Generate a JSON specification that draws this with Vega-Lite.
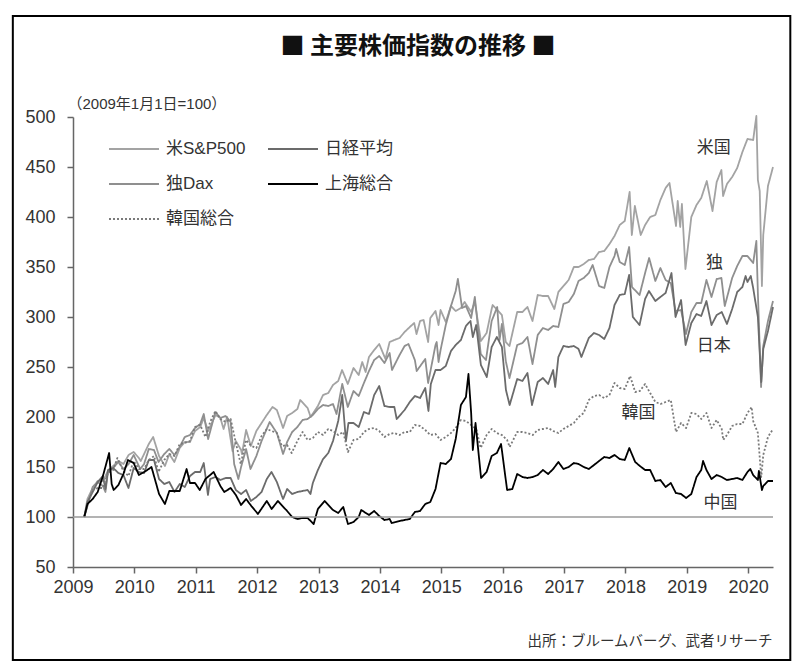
{
  "$schema": "https://vega.github.io/schema/vega-lite/v6.json",
  "width": 700,
  "height": 450,
  "autosize": "none",
  "padding": {"left": 73, "top": 117, "right": 30, "bottom": 103},
  "background": "white",
  "title": {
    "text": "■  主要株価指数の推移  ■",
    "font": "Noto Sans CJK JP",
    "fontSize": 24,
    "fontWeight": "bold",
    "color": "#111",
    "anchor": "middle",
    "frame": "group",
    "dx": -5,
    "offset": -44
  },
  "config": {
    "view": {"stroke": null},
    "font": "Liberation Sans"
  },
  "layer": [
    {
      "data": {
        "values": [
          {"d":"2009-03-09","s":"US","v":100},{"d":"2009-03-28","s":"US","v":118},{"d":"2009-04-28","s":"US","v":129},{"d":"2009-05-28","s":"US","v":136},{"d":"2009-06-28","s":"US","v":136},{"d":"2009-07-28","s":"US","v":146},{"d":"2009-08-28","s":"US","v":151},{"d":"2009-09-28","s":"US","v":156},{"d":"2009-10-28","s":"US","v":153},{"d":"2009-11-28","s":"US","v":162},{"d":"2009-12-28","s":"US","v":165},
          {"d":"2010-01-28","s":"US","v":159},{"d":"2010-02-08","s":"US","v":156},{"d":"2010-02-28","s":"US","v":163},{"d":"2010-03-28","s":"US","v":173},{"d":"2010-04-23","s":"US","v":180},{"d":"2010-05-28","s":"US","v":161},{"d":"2010-07-02","s":"US","v":151},{"d":"2010-07-28","s":"US","v":163},{"d":"2010-08-27","s":"US","v":155},{"d":"2010-09-28","s":"US","v":169},{"d":"2010-10-28","s":"US","v":175},{"d":"2010-11-28","s":"US","v":175},{"d":"2010-12-28","s":"US","v":186},
          {"d":"2011-01-28","s":"US","v":190},{"d":"2011-02-18","s":"US","v":199},{"d":"2011-03-16","s":"US","v":186},{"d":"2011-04-29","s":"US","v":202},{"d":"2011-05-28","s":"US","v":199},{"d":"2011-06-16","s":"US","v":188},{"d":"2011-07-07","s":"US","v":200},{"d":"2011-08-08","s":"US","v":166},{"d":"2011-08-28","s":"US","v":176},{"d":"2011-09-28","s":"US","v":167},{"d":"2011-10-03","s":"US","v":163},{"d":"2011-10-28","s":"US","v":187},{"d":"2011-11-25","s":"US","v":171},{"d":"2011-12-28","s":"US","v":186},
          {"d":"2012-01-28","s":"US","v":194},{"d":"2012-02-28","s":"US","v":202},{"d":"2012-04-02","s":"US","v":210},{"d":"2012-04-28","s":"US","v":207},{"d":"2012-06-04","s":"US","v":189},{"d":"2012-06-28","s":"US","v":201},{"d":"2012-07-28","s":"US","v":204},{"d":"2012-08-28","s":"US","v":208},{"d":"2012-09-14","s":"US","v":217},{"d":"2012-10-28","s":"US","v":209},{"d":"2012-11-15","s":"US","v":200},{"d":"2012-12-28","s":"US","v":211},
          {"d":"2013-01-28","s":"US","v":222},{"d":"2013-02-28","s":"US","v":224},{"d":"2013-03-28","s":"US","v":232},{"d":"2013-04-28","s":"US","v":236},{"d":"2013-05-21","s":"US","v":247},{"d":"2013-06-24","s":"US","v":233},{"d":"2013-07-28","s":"US","v":249},{"d":"2013-08-28","s":"US","v":242},{"d":"2013-09-18","s":"US","v":255},{"d":"2013-10-08","s":"US","v":245},{"d":"2013-10-28","s":"US","v":260},{"d":"2013-11-28","s":"US","v":267},{"d":"2013-12-28","s":"US","v":273},
          {"d":"2014-02-03","s":"US","v":258},{"d":"2014-02-28","s":"US","v":275},{"d":"2014-03-28","s":"US","v":277},{"d":"2014-04-28","s":"US","v":279},{"d":"2014-05-28","s":"US","v":285},{"d":"2014-06-28","s":"US","v":290},{"d":"2014-07-24","s":"US","v":294},{"d":"2014-08-07","s":"US","v":283},{"d":"2014-08-28","s":"US","v":296},{"d":"2014-09-18","s":"US","v":297},{"d":"2014-10-15","s":"US","v":275},{"d":"2014-10-28","s":"US","v":299},{"d":"2014-11-28","s":"US","v":306},{"d":"2014-12-16","s":"US","v":292},{"d":"2014-12-28","s":"US","v":307},
          {"d":"2015-01-28","s":"US","v":295},{"d":"2015-02-28","s":"US","v":311},{"d":"2015-03-28","s":"US","v":306},{"d":"2015-04-28","s":"US","v":309},{"d":"2015-05-20","s":"US","v":315},{"d":"2015-06-28","s":"US","v":305},{"d":"2015-07-20","s":"US","v":315},{"d":"2015-08-25","s":"US","v":276},{"d":"2015-09-28","s":"US","v":284},{"d":"2015-10-28","s":"US","v":308},{"d":"2015-11-03","s":"US","v":312},{"d":"2015-12-28","s":"US","v":302},
          {"d":"2016-01-20","s":"US","v":275},{"d":"2016-02-11","s":"US","v":271},{"d":"2016-03-28","s":"US","v":305},{"d":"2016-04-28","s":"US","v":305},{"d":"2016-05-28","s":"US","v":310},{"d":"2016-06-27","s":"US","v":296},{"d":"2016-07-28","s":"US","v":322},{"d":"2016-08-28","s":"US","v":321},{"d":"2016-09-28","s":"US","v":321},{"d":"2016-11-04","s":"US","v":308},{"d":"2016-11-28","s":"US","v":325},{"d":"2016-12-28","s":"US","v":331},
          {"d":"2017-01-28","s":"US","v":337},{"d":"2017-02-28","s":"US","v":350},{"d":"2017-03-28","s":"US","v":350},{"d":"2017-04-28","s":"US","v":353},{"d":"2017-05-28","s":"US","v":357},{"d":"2017-06-28","s":"US","v":358},{"d":"2017-07-28","s":"US","v":365},{"d":"2017-08-28","s":"US","v":366},{"d":"2017-09-28","s":"US","v":373},{"d":"2017-10-28","s":"US","v":381},{"d":"2017-11-28","s":"US","v":392},{"d":"2017-12-28","s":"US","v":396},
          {"d":"2018-01-26","s":"US","v":425},{"d":"2018-02-08","s":"US","v":382},{"d":"2018-02-26","s":"US","v":411},{"d":"2018-04-02","s":"US","v":382},{"d":"2018-04-28","s":"US","v":392},{"d":"2018-05-28","s":"US","v":400},{"d":"2018-06-28","s":"US","v":402},{"d":"2018-07-28","s":"US","v":417},{"d":"2018-08-28","s":"US","v":429},{"d":"2018-09-20","s":"US","v":434},{"d":"2018-10-29","s":"US","v":391},{"d":"2018-11-08","s":"US","v":416},{"d":"2018-11-23","s":"US","v":390},{"d":"2018-12-03","s":"US","v":413},{"d":"2018-12-24","s":"US","v":348},
          {"d":"2019-01-28","s":"US","v":400},{"d":"2019-02-28","s":"US","v":412},{"d":"2019-03-28","s":"US","v":419},{"d":"2019-04-30","s":"US","v":436},{"d":"2019-06-03","s":"US","v":406},{"d":"2019-06-28","s":"US","v":435},{"d":"2019-07-26","s":"US","v":447},{"d":"2019-08-05","s":"US","v":421},{"d":"2019-08-28","s":"US","v":433},{"d":"2019-09-28","s":"US","v":440},{"d":"2019-10-28","s":"US","v":449},{"d":"2019-11-28","s":"US","v":465},{"d":"2019-12-28","s":"US","v":478},
          {"d":"2020-01-31","s":"US","v":477},{"d":"2020-02-19","s":"US","v":501},{"d":"2020-02-28","s":"US","v":437},{"d":"2020-03-10","s":"US","v":426},{"d":"2020-03-23","s":"US","v":331},{"d":"2020-03-31","s":"US","v":382},{"d":"2020-04-28","s":"US","v":431},{"d":"2020-05-28","s":"US","v":450},

          {"d":"2009-03-09","s":"DE","v":100},{"d":"2009-03-28","s":"DE","v":111},{"d":"2009-04-28","s":"DE","v":130},{"d":"2009-05-28","s":"DE","v":135},{"d":"2009-06-28","s":"DE","v":131},{"d":"2009-07-13","s":"DE","v":125},{"d":"2009-07-28","s":"DE","v":145},{"d":"2009-08-28","s":"DE","v":149},{"d":"2009-09-28","s":"DE","v":155},{"d":"2009-10-28","s":"DE","v":148},{"d":"2009-11-28","s":"DE","v":153},{"d":"2009-12-28","s":"DE","v":162},
          {"d":"2010-02-05","s":"DE","v":148},{"d":"2010-02-28","s":"DE","v":153},{"d":"2010-03-28","s":"DE","v":168},{"d":"2010-04-28","s":"DE","v":167},{"d":"2010-05-25","s":"DE","v":155},{"d":"2010-06-28","s":"DE","v":163},{"d":"2010-07-28","s":"DE","v":168},{"d":"2010-08-28","s":"DE","v":162},{"d":"2010-09-28","s":"DE","v":170},{"d":"2010-10-28","s":"DE","v":180},{"d":"2010-11-28","s":"DE","v":182},{"d":"2010-12-28","s":"DE","v":189},
          {"d":"2011-01-28","s":"DE","v":193},{"d":"2011-02-18","s":"DE","v":203},{"d":"2011-03-16","s":"DE","v":178},{"d":"2011-04-28","s":"DE","v":205},{"d":"2011-05-28","s":"DE","v":199},{"d":"2011-06-28","s":"DE","v":201},{"d":"2011-07-28","s":"DE","v":195},{"d":"2011-08-18","s":"DE","v":153},{"d":"2011-09-12","s":"DE","v":138},{"d":"2011-09-28","s":"DE","v":150},{"d":"2011-10-28","s":"DE","v":168},{"d":"2011-11-23","s":"DE","v":148},{"d":"2011-12-28","s":"DE","v":161},
          {"d":"2012-01-28","s":"DE","v":176},{"d":"2012-03-16","s":"DE","v":195},{"d":"2012-04-28","s":"DE","v":184},{"d":"2012-06-04","s":"DE","v":163},{"d":"2012-06-28","s":"DE","v":175},{"d":"2012-07-28","s":"DE","v":185},{"d":"2012-08-28","s":"DE","v":190},{"d":"2012-09-28","s":"DE","v":197},{"d":"2012-10-28","s":"DE","v":198},{"d":"2012-11-28","s":"DE","v":202},{"d":"2012-12-28","s":"DE","v":208},
          {"d":"2013-01-28","s":"DE","v":212},{"d":"2013-02-28","s":"DE","v":211},{"d":"2013-03-28","s":"DE","v":213},{"d":"2013-04-18","s":"DE","v":203},{"d":"2013-05-22","s":"DE","v":233},{"d":"2013-06-24","s":"DE","v":210},{"d":"2013-07-28","s":"DE","v":226},{"d":"2013-08-28","s":"DE","v":221},{"d":"2013-09-28","s":"DE","v":234},{"d":"2013-10-28","s":"DE","v":246},{"d":"2013-11-28","s":"DE","v":257},{"d":"2013-12-28","s":"DE","v":261},
          {"d":"2014-01-28","s":"DE","v":254},{"d":"2014-02-28","s":"DE","v":264},{"d":"2014-03-14","s":"DE","v":247},{"d":"2014-04-28","s":"DE","v":262},{"d":"2014-05-28","s":"DE","v":271},{"d":"2014-06-20","s":"DE","v":273},{"d":"2014-07-28","s":"DE","v":257},{"d":"2014-08-08","s":"DE","v":246},{"d":"2014-09-28","s":"DE","v":258},{"d":"2014-10-15","s":"DE","v":234},{"d":"2014-11-28","s":"DE","v":272},{"d":"2014-12-05","s":"DE","v":275},{"d":"2014-12-16","s":"DE","v":255},{"d":"2014-12-28","s":"DE","v":267},
          {"d":"2015-01-28","s":"DE","v":292},{"d":"2015-02-28","s":"DE","v":311},{"d":"2015-03-28","s":"DE","v":326},{"d":"2015-04-10","s":"DE","v":338},{"d":"2015-05-05","s":"DE","v":309},{"d":"2015-05-28","s":"DE","v":311},{"d":"2015-06-28","s":"DE","v":299},{"d":"2015-07-20","s":"DE","v":320},{"d":"2015-08-24","s":"DE","v":263},{"d":"2015-09-24","s":"DE","v":257},{"d":"2015-10-28","s":"DE","v":296},{"d":"2015-11-30","s":"DE","v":310},{"d":"2015-12-14","s":"DE","v":277},{"d":"2015-12-28","s":"DE","v":293},
          {"d":"2016-01-20","s":"DE","v":256},{"d":"2016-02-11","s":"DE","v":239},{"d":"2016-03-28","s":"DE","v":272},{"d":"2016-04-28","s":"DE","v":274},{"d":"2016-05-28","s":"DE","v":280},{"d":"2016-06-27","s":"DE","v":253},{"d":"2016-07-28","s":"DE","v":282},{"d":"2016-08-28","s":"DE","v":289},{"d":"2016-09-28","s":"DE","v":287},{"d":"2016-10-28","s":"DE","v":291},{"d":"2016-11-28","s":"DE","v":290},{"d":"2016-12-28","s":"DE","v":313},
          {"d":"2017-01-28","s":"DE","v":315},{"d":"2017-02-28","s":"DE","v":323},{"d":"2017-03-28","s":"DE","v":336},{"d":"2017-04-28","s":"DE","v":339},{"d":"2017-05-28","s":"DE","v":344},{"d":"2017-06-20","s":"DE","v":352},{"d":"2017-07-28","s":"DE","v":331},{"d":"2017-08-28","s":"DE","v":329},{"d":"2017-09-28","s":"DE","v":350},{"d":"2017-10-28","s":"DE","v":361},{"d":"2017-11-07","s":"DE","v":368},{"d":"2017-11-28","s":"DE","v":355},{"d":"2017-12-28","s":"DE","v":352},
          {"d":"2018-01-23","s":"DE","v":370},{"d":"2018-02-09","s":"DE","v":330},{"d":"2018-03-26","s":"DE","v":322},{"d":"2018-04-28","s":"DE","v":344},{"d":"2018-05-22","s":"DE","v":359},{"d":"2018-06-28","s":"DE","v":336},{"d":"2018-07-28","s":"DE","v":349},{"d":"2018-08-28","s":"DE","v":337},{"d":"2018-09-28","s":"DE","v":334},{"d":"2018-10-26","s":"DE","v":306},{"d":"2018-11-28","s":"DE","v":307},{"d":"2018-12-27","s":"DE","v":283},
          {"d":"2019-01-28","s":"DE","v":305},{"d":"2019-02-28","s":"DE","v":314},{"d":"2019-03-28","s":"DE","v":314},{"d":"2019-04-28","s":"DE","v":337},{"d":"2019-05-28","s":"DE","v":320},{"d":"2019-06-28","s":"DE","v":338},{"d":"2019-07-26","s":"DE","v":339},{"d":"2019-08-15","s":"DE","v":311},{"d":"2019-09-28","s":"DE","v":339},{"d":"2019-10-28","s":"DE","v":351},{"d":"2019-11-28","s":"DE","v":361},{"d":"2019-12-28","s":"DE","v":361},
          {"d":"2020-01-31","s":"DE","v":354},{"d":"2020-02-19","s":"DE","v":376},{"d":"2020-02-28","s":"DE","v":324},{"d":"2020-03-18","s":"DE","v":230},{"d":"2020-03-31","s":"DE","v":271},{"d":"2020-04-28","s":"DE","v":296},{"d":"2020-05-28","s":"DE","v":316},

          {"d":"2009-03-09","s":"JP","v":100},{"d":"2009-03-28","s":"JP","v":115},{"d":"2009-04-28","s":"JP","v":125},{"d":"2009-05-28","s":"JP","v":135},{"d":"2009-06-28","s":"JP","v":141},{"d":"2009-07-13","s":"JP","v":128},{"d":"2009-07-28","s":"JP","v":147},{"d":"2009-08-28","s":"JP","v":149},{"d":"2009-09-28","s":"JP","v":144},{"d":"2009-10-28","s":"JP","v":142},{"d":"2009-11-27","s":"JP","v":129},{"d":"2009-12-28","s":"JP","v":149},
          {"d":"2010-01-28","s":"JP","v":145},{"d":"2010-02-28","s":"JP","v":144},{"d":"2010-03-28","s":"JP","v":157},{"d":"2010-04-28","s":"JP","v":157},{"d":"2010-05-28","s":"JP","v":138},{"d":"2010-06-28","s":"JP","v":133},{"d":"2010-07-28","s":"JP","v":135},{"d":"2010-08-28","s":"JP","v":125},{"d":"2010-09-28","s":"JP","v":133},{"d":"2010-10-28","s":"JP","v":130},{"d":"2010-11-28","s":"JP","v":141},{"d":"2010-12-28","s":"JP","v":145},
          {"d":"2011-01-28","s":"JP","v":145},{"d":"2011-02-18","s":"JP","v":154},{"d":"2011-03-15","s":"JP","v":122},{"d":"2011-03-28","s":"JP","v":138},{"d":"2011-04-28","s":"JP","v":140},{"d":"2011-05-28","s":"JP","v":137},{"d":"2011-06-28","s":"JP","v":139},{"d":"2011-07-28","s":"JP","v":139},{"d":"2011-08-28","s":"JP","v":127},{"d":"2011-09-28","s":"JP","v":123},{"d":"2011-10-28","s":"JP","v":127},{"d":"2011-11-25","s":"JP","v":116},{"d":"2011-12-28","s":"JP","v":120},
          {"d":"2012-01-28","s":"JP","v":125},{"d":"2012-02-28","s":"JP","v":138},{"d":"2012-03-27","s":"JP","v":145},{"d":"2012-04-28","s":"JP","v":135},{"d":"2012-05-28","s":"JP","v":121},{"d":"2012-06-04","s":"JP","v":118},{"d":"2012-06-28","s":"JP","v":128},{"d":"2012-07-28","s":"JP","v":123},{"d":"2012-08-28","s":"JP","v":125},{"d":"2012-09-28","s":"JP","v":126},{"d":"2012-10-28","s":"JP","v":127},{"d":"2012-11-14","s":"JP","v":123},{"d":"2012-11-28","s":"JP","v":134},{"d":"2012-12-28","s":"JP","v":147},
          {"d":"2013-01-28","s":"JP","v":158},{"d":"2013-02-28","s":"JP","v":164},{"d":"2013-03-28","s":"JP","v":176},{"d":"2013-04-28","s":"JP","v":196},{"d":"2013-05-22","s":"JP","v":222},{"d":"2013-06-13","s":"JP","v":176},{"d":"2013-06-28","s":"JP","v":194},{"d":"2013-07-28","s":"JP","v":194},{"d":"2013-08-28","s":"JP","v":190},{"d":"2013-09-28","s":"JP","v":205},{"d":"2013-10-28","s":"JP","v":203},{"d":"2013-11-28","s":"JP","v":222},{"d":"2013-12-28","s":"JP","v":231},
          {"d":"2014-01-28","s":"JP","v":211},{"d":"2014-02-28","s":"JP","v":210},{"d":"2014-03-28","s":"JP","v":210},{"d":"2014-04-11","s":"JP","v":198},{"d":"2014-05-28","s":"JP","v":207},{"d":"2014-06-28","s":"JP","v":215},{"d":"2014-07-28","s":"JP","v":221},{"d":"2014-08-28","s":"JP","v":219},{"d":"2014-09-28","s":"JP","v":229},{"d":"2014-10-17","s":"JP","v":206},{"d":"2014-10-31","s":"JP","v":233},{"d":"2014-11-28","s":"JP","v":247},{"d":"2014-12-28","s":"JP","v":247},
          {"d":"2015-01-28","s":"JP","v":251},{"d":"2015-02-28","s":"JP","v":266},{"d":"2015-03-28","s":"JP","v":272},{"d":"2015-04-28","s":"JP","v":277},{"d":"2015-05-28","s":"JP","v":291},{"d":"2015-06-24","s":"JP","v":296},{"d":"2015-07-08","s":"JP","v":280},{"d":"2015-07-28","s":"JP","v":292},{"d":"2015-08-25","s":"JP","v":252},{"d":"2015-09-29","s":"JP","v":240},{"d":"2015-10-28","s":"JP","v":270},{"d":"2015-11-28","s":"JP","v":280},{"d":"2015-12-28","s":"JP","v":270},
          {"d":"2016-01-21","s":"JP","v":227},{"d":"2016-02-12","s":"JP","v":212},{"d":"2016-03-28","s":"JP","v":238},{"d":"2016-04-28","s":"JP","v":236},{"d":"2016-05-28","s":"JP","v":244},{"d":"2016-06-24","s":"JP","v":212},{"d":"2016-07-28","s":"JP","v":235},{"d":"2016-08-28","s":"JP","v":239},{"d":"2016-09-28","s":"JP","v":233},{"d":"2016-10-28","s":"JP","v":247},{"d":"2016-11-09","s":"JP","v":230},{"d":"2016-11-28","s":"JP","v":260},{"d":"2016-12-28","s":"JP","v":271},
          {"d":"2017-01-28","s":"JP","v":270},{"d":"2017-02-28","s":"JP","v":271},{"d":"2017-03-28","s":"JP","v":268},{"d":"2017-04-14","s":"JP","v":260},{"d":"2017-05-28","s":"JP","v":279},{"d":"2017-06-28","s":"JP","v":284},{"d":"2017-07-28","s":"JP","v":282},{"d":"2017-08-28","s":"JP","v":278},{"d":"2017-09-28","s":"JP","v":289},{"d":"2017-10-28","s":"JP","v":312},{"d":"2017-11-28","s":"JP","v":322},{"d":"2017-12-28","s":"JP","v":323},
          {"d":"2018-01-23","s":"JP","v":342},{"d":"2018-02-14","s":"JP","v":300},{"d":"2018-03-26","s":"JP","v":292},{"d":"2018-04-28","s":"JP","v":318},{"d":"2018-05-21","s":"JP","v":326},{"d":"2018-06-28","s":"JP","v":316},{"d":"2018-07-28","s":"JP","v":320},{"d":"2018-08-28","s":"JP","v":324},{"d":"2018-10-02","s":"JP","v":344},{"d":"2018-10-26","s":"JP","v":300},{"d":"2018-11-28","s":"JP","v":317},{"d":"2018-12-25","s":"JP","v":272},
          {"d":"2019-01-28","s":"JP","v":294},{"d":"2019-02-28","s":"JP","v":303},{"d":"2019-03-28","s":"JP","v":301},{"d":"2019-04-28","s":"JP","v":316},{"d":"2019-05-28","s":"JP","v":292},{"d":"2019-06-28","s":"JP","v":302},{"d":"2019-07-28","s":"JP","v":305},{"d":"2019-08-28","s":"JP","v":293},{"d":"2019-09-28","s":"JP","v":308},{"d":"2019-10-28","s":"JP","v":325},{"d":"2019-11-28","s":"JP","v":330},{"d":"2019-12-17","s":"JP","v":341},{"d":"2019-12-28","s":"JP","v":335},
          {"d":"2020-01-17","s":"JP","v":341},{"d":"2020-01-31","s":"JP","v":329},{"d":"2020-02-28","s":"JP","v":300},{"d":"2020-03-19","s":"JP","v":235},{"d":"2020-03-31","s":"JP","v":268},{"d":"2020-04-28","s":"JP","v":286},{"d":"2020-05-28","s":"JP","v":310},

          {"d":"2009-03-09","s":"KR","v":100},{"d":"2009-03-28","s":"KR","v":112},{"d":"2009-04-28","s":"KR","v":127},{"d":"2009-05-28","s":"KR","v":129},{"d":"2009-06-28","s":"KR","v":129},{"d":"2009-07-28","s":"KR","v":144},{"d":"2009-08-28","s":"KR","v":147},{"d":"2009-09-22","s":"KR","v":159},{"d":"2009-10-28","s":"KR","v":146},{"d":"2009-11-27","s":"KR","v":141},{"d":"2009-12-28","s":"KR","v":156},
          {"d":"2010-01-28","s":"KR","v":148},{"d":"2010-02-28","s":"KR","v":148},{"d":"2010-03-28","s":"KR","v":157},{"d":"2010-04-28","s":"KR","v":161},{"d":"2010-05-25","s":"KR","v":145},{"d":"2010-06-28","s":"KR","v":157},{"d":"2010-07-28","s":"KR","v":163},{"d":"2010-08-28","s":"KR","v":161},{"d":"2010-09-28","s":"KR","v":173},{"d":"2010-10-28","s":"KR","v":174},{"d":"2010-11-28","s":"KR","v":176},{"d":"2010-12-28","s":"KR","v":190},
          {"d":"2011-01-28","s":"KR","v":192},{"d":"2011-02-28","s":"KR","v":180},{"d":"2011-03-28","s":"KR","v":195},{"d":"2011-04-28","s":"KR","v":206},{"d":"2011-05-28","s":"KR","v":198},{"d":"2011-06-28","s":"KR","v":195},{"d":"2011-07-28","s":"KR","v":198},{"d":"2011-08-28","s":"KR","v":174},{"d":"2011-09-26","s":"KR","v":153},{"d":"2011-10-28","s":"KR","v":177},{"d":"2011-11-28","s":"KR","v":171},{"d":"2011-12-28","s":"KR","v":169},
          {"d":"2012-01-28","s":"KR","v":181},{"d":"2012-02-28","s":"KR","v":188},{"d":"2012-03-28","s":"KR","v":186},{"d":"2012-04-28","s":"KR","v":184},{"d":"2012-05-28","s":"KR","v":171},{"d":"2012-06-28","s":"KR","v":172},{"d":"2012-07-25","s":"KR","v":164},{"d":"2012-08-28","s":"KR","v":176},{"d":"2012-09-28","s":"KR","v":185},{"d":"2012-10-28","s":"KR","v":177},{"d":"2012-11-28","s":"KR","v":179},{"d":"2012-12-28","s":"KR","v":185},
          {"d":"2013-01-28","s":"KR","v":182},{"d":"2013-02-28","s":"KR","v":188},{"d":"2013-03-28","s":"KR","v":186},{"d":"2013-04-28","s":"KR","v":182},{"d":"2013-05-28","s":"KR","v":185},{"d":"2013-06-25","s":"KR","v":165},{"d":"2013-07-28","s":"KR","v":177},{"d":"2013-08-28","s":"KR","v":178},{"d":"2013-09-28","s":"KR","v":185},{"d":"2013-10-28","s":"KR","v":188},{"d":"2013-11-28","s":"KR","v":189},{"d":"2013-12-28","s":"KR","v":186},
          {"d":"2014-01-28","s":"KR","v":180},{"d":"2014-02-28","s":"KR","v":183},{"d":"2014-03-28","s":"KR","v":184},{"d":"2014-04-28","s":"KR","v":182},{"d":"2014-05-28","s":"KR","v":185},{"d":"2014-06-28","s":"KR","v":185},{"d":"2014-07-28","s":"KR","v":192},{"d":"2014-08-28","s":"KR","v":191},{"d":"2014-09-28","s":"KR","v":187},{"d":"2014-10-28","s":"KR","v":182},{"d":"2014-11-28","s":"KR","v":183},{"d":"2014-12-28","s":"KR","v":177},
          {"d":"2015-01-28","s":"KR","v":180},{"d":"2015-02-28","s":"KR","v":184},{"d":"2015-03-28","s":"KR","v":189},{"d":"2015-04-28","s":"KR","v":197},{"d":"2015-05-28","s":"KR","v":196},{"d":"2015-06-28","s":"KR","v":192},{"d":"2015-07-28","s":"KR","v":188},{"d":"2015-08-24","s":"KR","v":169},{"d":"2015-09-28","s":"KR","v":182},{"d":"2015-10-28","s":"KR","v":188},{"d":"2015-11-28","s":"KR","v":184},{"d":"2015-12-28","s":"KR","v":182},
          {"d":"2016-01-28","s":"KR","v":177},{"d":"2016-02-12","s":"KR","v":170},{"d":"2016-03-28","s":"KR","v":185},{"d":"2016-04-28","s":"KR","v":185},{"d":"2016-05-28","s":"KR","v":184},{"d":"2016-06-28","s":"KR","v":182},{"d":"2016-07-28","s":"KR","v":187},{"d":"2016-08-28","s":"KR","v":188},{"d":"2016-09-28","s":"KR","v":189},{"d":"2016-10-28","s":"KR","v":186},{"d":"2016-11-28","s":"KR","v":184},{"d":"2016-12-28","s":"KR","v":188},
          {"d":"2017-01-28","s":"KR","v":191},{"d":"2017-02-28","s":"KR","v":194},{"d":"2017-03-28","s":"KR","v":200},{"d":"2017-04-28","s":"KR","v":204},{"d":"2017-05-28","s":"KR","v":217},{"d":"2017-06-28","s":"KR","v":221},{"d":"2017-07-28","s":"KR","v":222},{"d":"2017-08-28","s":"KR","v":219},{"d":"2017-09-28","s":"KR","v":222},{"d":"2017-10-28","s":"KR","v":234},{"d":"2017-11-28","s":"KR","v":229},{"d":"2017-12-28","s":"KR","v":228},
          {"d":"2018-01-29","s":"KR","v":241},{"d":"2018-02-28","s":"KR","v":225},{"d":"2018-03-28","s":"KR","v":226},{"d":"2018-04-28","s":"KR","v":233},{"d":"2018-05-28","s":"KR","v":224},{"d":"2018-06-28","s":"KR","v":215},{"d":"2018-07-28","s":"KR","v":213},{"d":"2018-08-28","s":"KR","v":215},{"d":"2018-09-28","s":"KR","v":217},{"d":"2018-10-29","s":"KR","v":185},{"d":"2018-11-28","s":"KR","v":194},{"d":"2018-12-28","s":"KR","v":189},
          {"d":"2019-01-28","s":"KR","v":204},{"d":"2019-02-28","s":"KR","v":203},{"d":"2019-03-28","s":"KR","v":198},{"d":"2019-04-28","s":"KR","v":204},{"d":"2019-05-28","s":"KR","v":189},{"d":"2019-06-28","s":"KR","v":197},{"d":"2019-07-28","s":"KR","v":188},{"d":"2019-08-06","s":"KR","v":177},{"d":"2019-08-28","s":"KR","v":182},{"d":"2019-09-28","s":"KR","v":191},{"d":"2019-10-28","s":"KR","v":193},{"d":"2019-11-28","s":"KR","v":193},{"d":"2019-12-28","s":"KR","v":204},
          {"d":"2020-01-22","s":"KR","v":210},{"d":"2020-01-31","s":"KR","v":196},{"d":"2020-02-28","s":"KR","v":184},{"d":"2020-03-19","s":"KR","v":140},{"d":"2020-03-31","s":"KR","v":162},{"d":"2020-04-28","s":"KR","v":180},{"d":"2020-05-28","s":"KR","v":188},

          {"d":"2009-03-09","s":"CN","v":100},{"d":"2009-03-28","s":"CN","v":113},{"d":"2009-04-28","s":"CN","v":118},{"d":"2009-05-28","s":"CN","v":125},{"d":"2009-06-28","s":"CN","v":141},{"d":"2009-08-04","s":"CN","v":164},{"d":"2009-08-19","s":"CN","v":133},{"d":"2009-08-31","s":"CN","v":127},{"d":"2009-09-28","s":"CN","v":132},{"d":"2009-10-28","s":"CN","v":143},{"d":"2009-11-24","s":"CN","v":157},{"d":"2009-12-28","s":"CN","v":154},
          {"d":"2010-01-28","s":"CN","v":142},{"d":"2010-02-28","s":"CN","v":145},{"d":"2010-03-28","s":"CN","v":148},{"d":"2010-04-13","s":"CN","v":150},{"d":"2010-05-28","s":"CN","v":123},{"d":"2010-07-02","s":"CN","v":113},{"d":"2010-07-28","s":"CN","v":126},{"d":"2010-08-28","s":"CN","v":126},{"d":"2010-09-28","s":"CN","v":126},{"d":"2010-11-08","s":"CN","v":148},{"d":"2010-11-28","s":"CN","v":134},{"d":"2010-12-28","s":"CN","v":134},
          {"d":"2011-01-25","s":"CN","v":127},{"d":"2011-02-28","s":"CN","v":138},{"d":"2011-04-18","s":"CN","v":145},{"d":"2011-05-28","s":"CN","v":131},{"d":"2011-06-20","s":"CN","v":125},{"d":"2011-07-28","s":"CN","v":129},{"d":"2011-08-28","s":"CN","v":122},{"d":"2011-09-28","s":"CN","v":112},{"d":"2011-10-28","s":"CN","v":118},{"d":"2011-11-28","s":"CN","v":111},{"d":"2011-12-28","s":"CN","v":105},
          {"d":"2012-01-06","s":"CN","v":103},{"d":"2012-02-28","s":"CN","v":116},{"d":"2012-03-28","s":"CN","v":108},{"d":"2012-05-04","s":"CN","v":116},{"d":"2012-06-28","s":"CN","v":106},{"d":"2012-07-28","s":"CN","v":100},{"d":"2012-08-28","s":"CN","v":98},{"d":"2012-09-28","s":"CN","v":99},{"d":"2012-10-28","s":"CN","v":99},{"d":"2012-12-03","s":"CN","v":93},{"d":"2012-12-28","s":"CN","v":108},
          {"d":"2013-02-06","s":"CN","v":116},{"d":"2013-03-28","s":"CN","v":107},{"d":"2013-04-28","s":"CN","v":104},{"d":"2013-05-28","s":"CN","v":110},{"d":"2013-06-25","s":"CN","v":93},{"d":"2013-07-28","s":"CN","v":95},{"d":"2013-08-28","s":"CN","v":100},{"d":"2013-09-12","s":"CN","v":107},{"d":"2013-10-28","s":"CN","v":102},{"d":"2013-11-28","s":"CN","v":106},{"d":"2013-12-28","s":"CN","v":101},
          {"d":"2014-01-28","s":"CN","v":97},{"d":"2014-02-28","s":"CN","v":98},{"d":"2014-03-12","s":"CN","v":94},{"d":"2014-04-28","s":"CN","v":96},{"d":"2014-05-28","s":"CN","v":97},{"d":"2014-06-28","s":"CN","v":98},{"d":"2014-07-28","s":"CN","v":105},{"d":"2014-08-28","s":"CN","v":106},{"d":"2014-09-28","s":"CN","v":113},{"d":"2014-10-28","s":"CN","v":115},{"d":"2014-11-28","s":"CN","v":128},{"d":"2014-12-28","s":"CN","v":154},
          {"d":"2015-01-28","s":"CN","v":153},{"d":"2015-02-28","s":"CN","v":158},{"d":"2015-03-28","s":"CN","v":178},{"d":"2015-04-28","s":"CN","v":212},{"d":"2015-05-28","s":"CN","v":220},{"d":"2015-06-12","s":"CN","v":243},{"d":"2015-06-28","s":"CN","v":204},{"d":"2015-07-08","s":"CN","v":167},{"d":"2015-07-24","s":"CN","v":194},{"d":"2015-08-26","s":"CN","v":139},{"d":"2015-09-28","s":"CN","v":145},{"d":"2015-10-28","s":"CN","v":161},{"d":"2015-11-28","s":"CN","v":164},{"d":"2015-12-23","s":"CN","v":173},
          {"d":"2016-01-28","s":"CN","v":127},{"d":"2016-02-28","s":"CN","v":128},{"d":"2016-03-28","s":"CN","v":143},{"d":"2016-04-28","s":"CN","v":140},{"d":"2016-05-28","s":"CN","v":139},{"d":"2016-06-28","s":"CN","v":140},{"d":"2016-07-28","s":"CN","v":142},{"d":"2016-08-28","s":"CN","v":147},{"d":"2016-09-28","s":"CN","v":143},{"d":"2016-10-28","s":"CN","v":148},{"d":"2016-11-28","s":"CN","v":155},{"d":"2016-12-28","s":"CN","v":148},
          {"d":"2017-01-28","s":"CN","v":150},{"d":"2017-02-28","s":"CN","v":154},{"d":"2017-03-28","s":"CN","v":153},{"d":"2017-04-28","s":"CN","v":150},{"d":"2017-05-28","s":"CN","v":148},{"d":"2017-06-28","s":"CN","v":152},{"d":"2017-07-28","s":"CN","v":156},{"d":"2017-08-28","s":"CN","v":160},{"d":"2017-09-28","s":"CN","v":159},{"d":"2017-10-28","s":"CN","v":162},{"d":"2017-11-28","s":"CN","v":158},{"d":"2017-12-28","s":"CN","v":157},
          {"d":"2018-01-24","s":"CN","v":169},{"d":"2018-02-28","s":"CN","v":155},{"d":"2018-03-28","s":"CN","v":151},{"d":"2018-04-28","s":"CN","v":147},{"d":"2018-05-28","s":"CN","v":147},{"d":"2018-06-28","s":"CN","v":136},{"d":"2018-07-28","s":"CN","v":137},{"d":"2018-08-28","s":"CN","v":130},{"d":"2018-09-28","s":"CN","v":134},{"d":"2018-10-28","s":"CN","v":124},{"d":"2018-11-28","s":"CN","v":123},{"d":"2018-12-28","s":"CN","v":119},
          {"d":"2019-01-28","s":"CN","v":123},{"d":"2019-02-28","s":"CN","v":140},{"d":"2019-03-28","s":"CN","v":147},{"d":"2019-04-08","s":"CN","v":156},{"d":"2019-04-28","s":"CN","v":147},{"d":"2019-05-28","s":"CN","v":138},{"d":"2019-06-28","s":"CN","v":142},{"d":"2019-07-28","s":"CN","v":140},{"d":"2019-08-28","s":"CN","v":137},{"d":"2019-09-28","s":"CN","v":138},{"d":"2019-10-28","s":"CN","v":139},{"d":"2019-11-28","s":"CN","v":137},{"d":"2019-12-28","s":"CN","v":145},
          {"d":"2020-01-14","s":"CN","v":148},{"d":"2020-01-31","s":"CN","v":142},{"d":"2020-02-28","s":"CN","v":137},{"d":"2020-03-05","s":"CN","v":146},{"d":"2020-03-23","s":"CN","v":127},{"d":"2020-03-31","s":"CN","v":131},{"d":"2020-04-28","s":"CN","v":136},{"d":"2020-05-28","s":"CN","v":136}
        ]
      },
      "mark": {"type": "line", "strokeJoin": "round", "interpolate": "linear"},
      "encoding": {
        "x": {
          "field": "d",
          "type": "temporal",
          "title": "出所：ブルームバーグ、武者リサーチ",
          "scale": {"domain": [{"year": 2009, "month": 1, "date": 1}, {"year": 2020, "month": 5, "date": 28}], "nice": false},
          "axis": {
            "format": "%Y",
            "tickCount": {"interval": "year", "step": 1},
            "grid": false,
            "labelFlush": false,
            "labelOverlap": false,
            "labelFont": "Liberation Sans",
            "labelFontSize": 18,
            "labelColor": "#333",
            "labelPadding": 5,
            "tickSize": 6,
            "tickColor": "#666",
            "tickWidth": 1.5,
            "domainColor": "#666",
            "domainWidth": 1.5,
            "titleFont": "Liberation Sans, Noto Sans CJK JP",
            "titleFontSize": 14.5,
            "titleFontWeight": "normal",
            "titleColor": "#333",
            "titleAnchor": null,
            "titleAlign": "right",
            "titleBaseline": "middle",
            "titleX": 699,
            "titleY": 74
          }
        },
        "y": {
          "field": "v",
          "type": "quantitative",
          "title": "（2009年1月1日=100）",
          "scale": {"domain": [50, 500], "nice": false, "zero": false},
          "axis": {
            "values": [50, 100, 150, 200, 250, 300, 350, 400, 450, 500],
            "grid": false,
            "labelFont": "Liberation Sans",
            "labelFontSize": 18,
            "labelColor": "#333",
            "labelPadding": 12,
            "tickSize": 6,
            "tickColor": "#666",
            "tickWidth": 1.5,
            "domainColor": "#666",
            "domainWidth": 1.5,
            "titleFont": "Liberation Sans, Noto Sans CJK JP",
            "titleFontSize": 15,
            "titleFontWeight": "normal",
            "titleColor": "#333",
            "titleAngle": 0,
            "titleAnchor": null,
            "titleAlign": "left",
            "titleBaseline": "middle",
            "titleX": -6,
            "titleY": -14
          }
        },
        "color": {
          "field": "s",
          "type": "nominal",
          "scale": {"domain": ["US", "JP", "DE", "CN", "KR"], "range": ["#a3a3a3", "#6b6b6b", "#8f8f8f", "#000000", "#7a7a7a"]},
          "legend": {
            "orient": "none",
            "direction": "horizontal",
            "legendX": 35,
            "legendY": 21,
            "columns": 2,
            "title": null,
            "padding": 0,
            "rowPadding": 16,
            "columnPadding": 18,
            "symbolType": "M-1,0H4",
            "symbolSize": 400,
            "labelOffset": 36,
            "labelFont": "Liberation Sans, Noto Sans CJK JP",
            "labelFontSize": 17,
            "labelColor": "#333",
            "labelExpr": "datum.label == 'US' ? '米S&P500' : datum.label == 'JP' ? '日経平均' : datum.label == 'DE' ? '独Dax' : datum.label == 'CN' ? '上海総合' : '韓国総合'"
          }
        },
        "strokeDash": {
          "field": "s",
          "type": "nominal",
          "scale": {"domain": ["US", "JP", "DE", "CN", "KR"], "range": [[1, 0], [1, 0], [1, 0], [1, 0], [2, 2]]},
          "legend": {"title": null}
        },
        "strokeWidth": {
          "field": "s",
          "type": "nominal",
          "scale": {"domain": ["US", "JP", "DE", "CN", "KR"], "range": [1.8, 1.8, 1.8, 2.3, 1.9]},
          "legend": {"title": null}
        }
      }
    },
    {
      "data": {"values": [{}]},
      "mark": {"type": "rect", "filled": false, "stroke": "#000", "strokeWidth": 2, "clip": false},
      "encoding": {
        "x": {"datum": {"year": 2008, "month": 1, "date": 9}, "type": "temporal"},
        "x2": {"datum": {"year": 2020, "month": 9, "date": 8}},
        "y": {"datum": 601, "type": "quantitative"},
        "y2": {"datum": -43}
      }
    },
    {
      "data": {"values": [{}]},
      "mark": {"type": "rule", "color": "#9a9a9a", "strokeWidth": 1.6},
      "encoding": {
        "y": {"datum": 100, "type": "quantitative"}
      }
    },
    {
      "data": {
        "values": [
          {"d": "2019-06-10", "v": 469, "t": "米国"},
          {"d": "2019-06-15", "v": 354, "t": "独"},
          {"d": "2019-06-10", "v": 271, "t": "日本"},
          {"d": "2018-03-20", "v": 204, "t": "韓国"},
          {"d": "2019-07-20", "v": 114, "t": "中国"}
        ]
      },
      "mark": {"type": "text", "font": "Noto Sans CJK JP", "fontSize": 17, "color": "#333", "align": "center", "baseline": "middle"},
      "encoding": {
        "x": {"field": "d", "type": "temporal"},
        "y": {"field": "v", "type": "quantitative"},
        "text": {"field": "t"}
      }
    }
  ]
}
